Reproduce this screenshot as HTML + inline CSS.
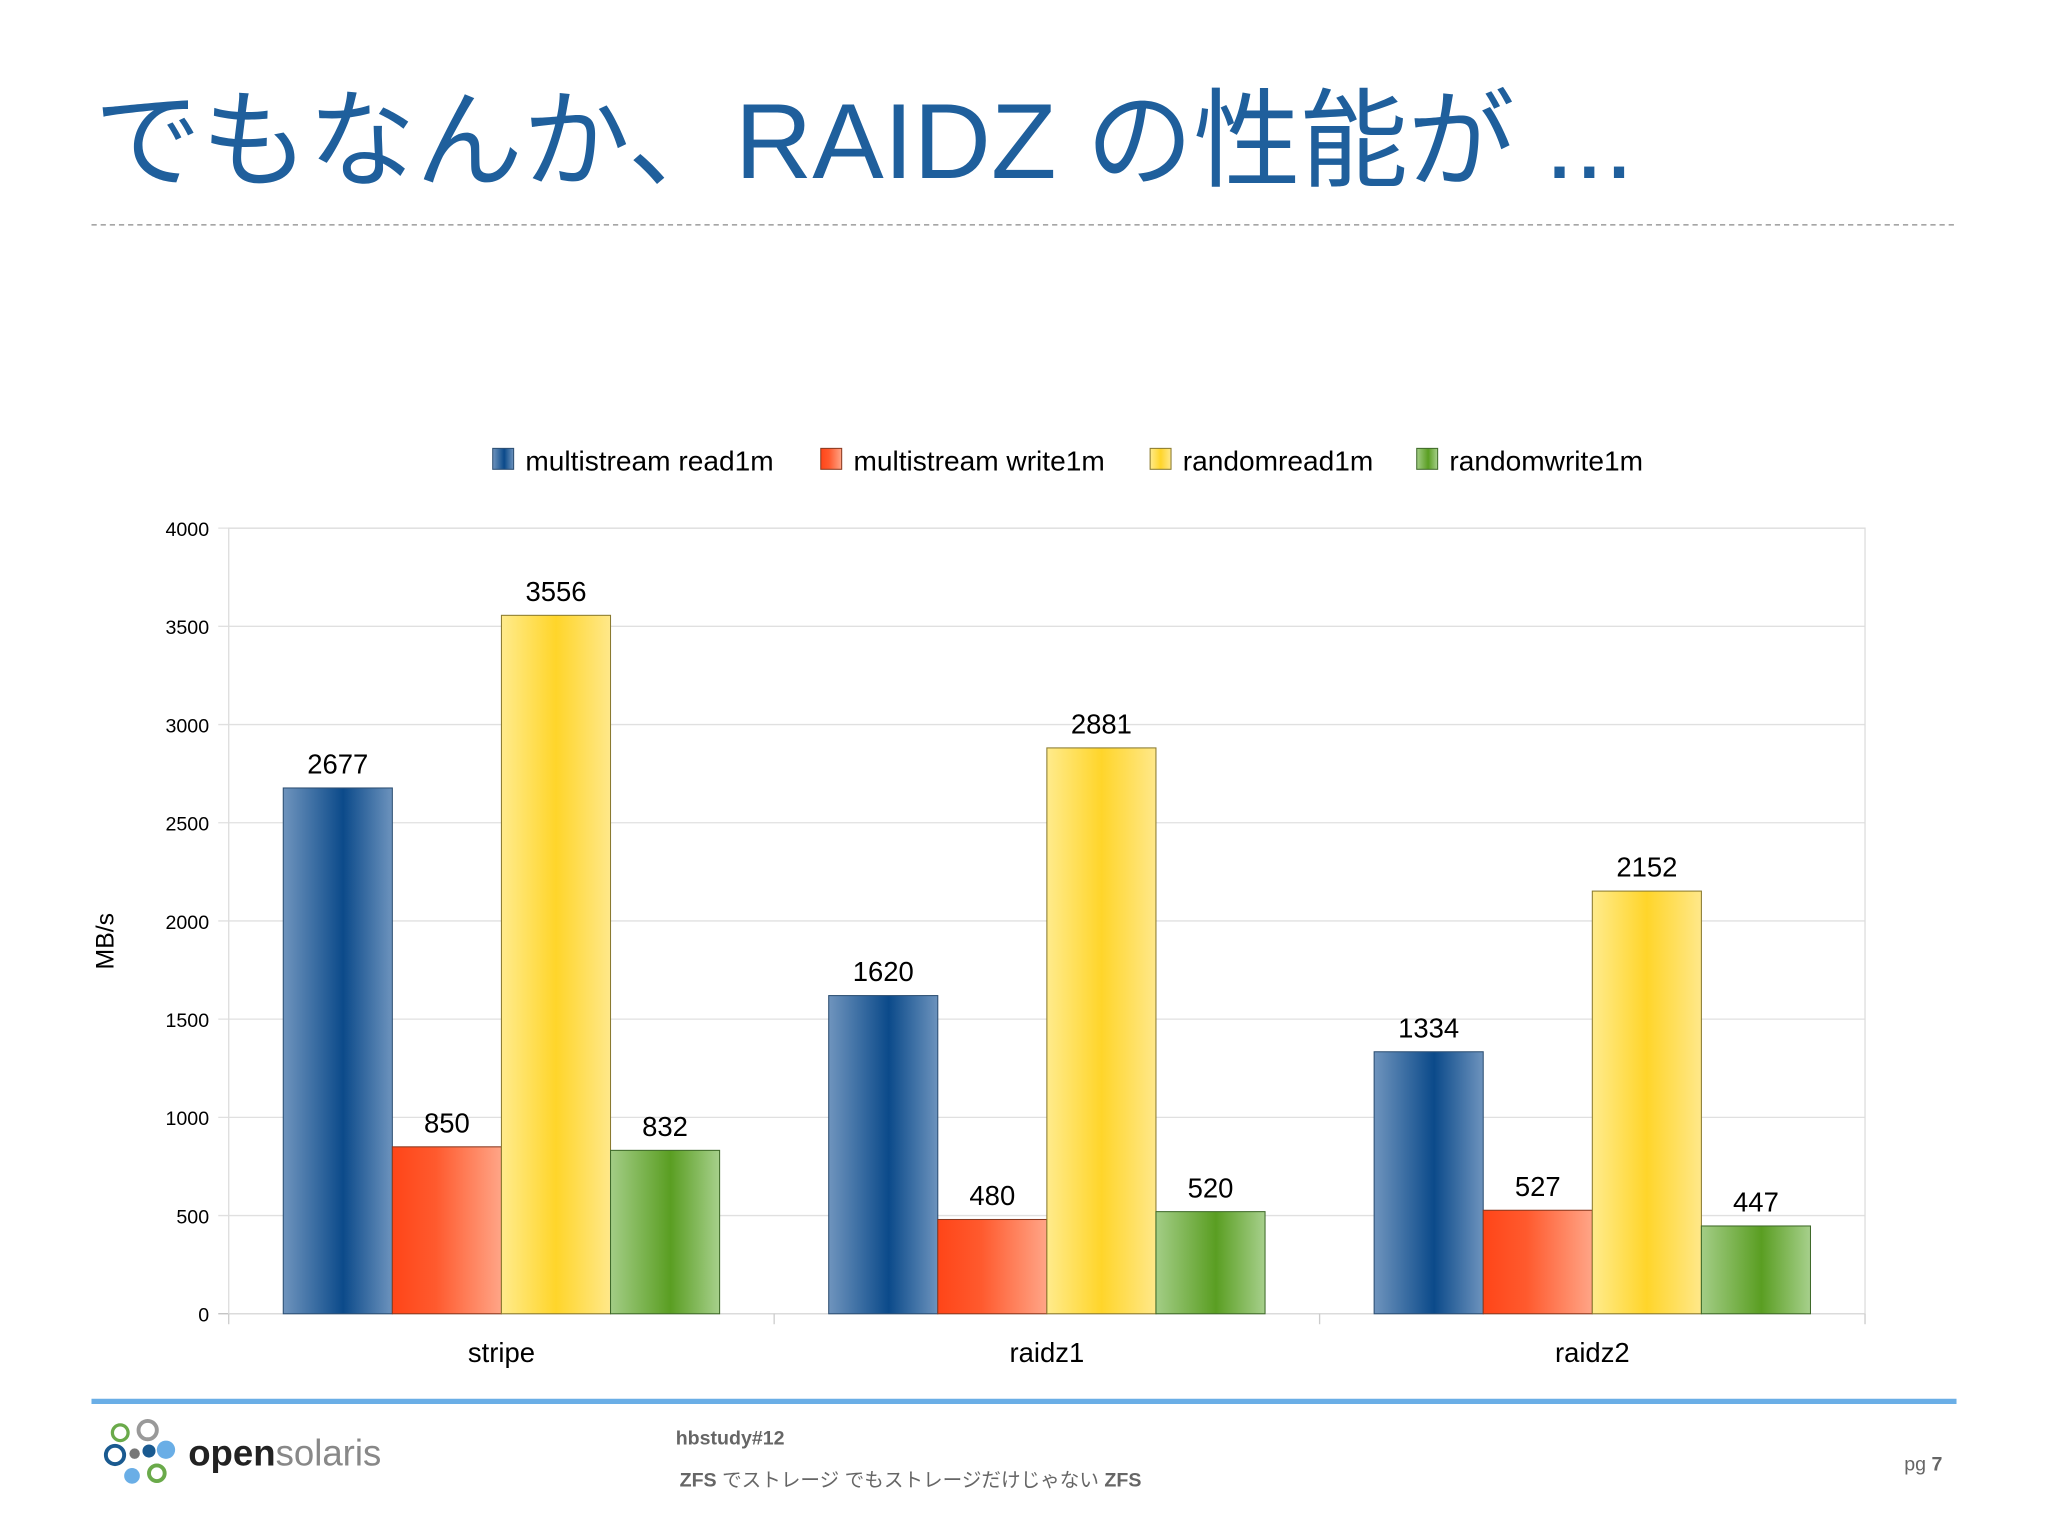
<!DOCTYPE html>
<html><head><meta charset="utf-8"><style>
html,body{margin:0;padding:0;background:#fff;width:2048px;height:1536px;overflow:hidden}
svg{display:block}
text{font-family:"Liberation Sans","Noto Sans CJK JP",sans-serif}
</style></head><body>
<svg id="chart" width="2048" height="1536" viewBox="0 0 1567 1175" preserveAspectRatio="none" xmlns="http://www.w3.org/2000/svg">
<defs>
<linearGradient id="gBlue" x1="0" x2="1"><stop offset="0" stop-color="#6f94bd"/><stop offset="0.55" stop-color="#0b4a8a"/><stop offset="1" stop-color="#6d93bd"/></linearGradient>
<linearGradient id="gRed" x1="0" x2="1"><stop offset="0" stop-color="#ff4518"/><stop offset="0.4" stop-color="#ff5a2e"/><stop offset="1" stop-color="#ffa587"/></linearGradient>
<linearGradient id="gYellow" x1="0" x2="1"><stop offset="0" stop-color="#ffeb8c"/><stop offset="0.5" stop-color="#ffd52a"/><stop offset="1" stop-color="#ffe88a"/></linearGradient>
<linearGradient id="gGreen" x1="0" x2="1"><stop offset="0" stop-color="#a3cd86"/><stop offset="0.55" stop-color="#5a9e22"/><stop offset="1" stop-color="#a7d08c"/></linearGradient>
</defs>
<text x="72" y="136" font-size="82" fill="#1f5f9c">でもなんか、RAIDZ の性能が ...</text>
<line x1="70" y1="172" x2="1497" y2="172" stroke="#888" stroke-width="1" stroke-dasharray="4,3"/>
<g id="legend"></g>
<g id="grid"></g>
<g id="bars"></g>
<text transform="translate(87,720) rotate(-90)" text-anchor="middle" font-size="19" fill="#000">MB/s</text>
<line x1="70" y1="1072" x2="1497" y2="1072" stroke="#6aaee6" stroke-width="4"/>
<g>
<circle cx="92" cy="1096" r="6" fill="none" stroke="#6aaa4a" stroke-width="2.5"/>
<circle cx="113" cy="1094" r="7" fill="none" stroke="#999" stroke-width="3"/>
<circle cx="88" cy="1113" r="7" fill="none" stroke="#1a5a90" stroke-width="3"/>
<circle cx="103" cy="1112" r="4" fill="#777"/>
<circle cx="114" cy="1110" r="5" fill="#1a5a90"/>
<circle cx="127" cy="1109" r="7" fill="#6aaee6"/>
<circle cx="101" cy="1129" r="6" fill="#6aaee6"/>
<circle cx="120" cy="1127" r="6" fill="none" stroke="#6aaa4a" stroke-width="3"/>
<text x="144" y="1121" font-size="28" font-weight="bold" fill="#222">open<tspan fill="#888" font-weight="normal">solaris</tspan></text>
</g>
<text x="517" y="1105" font-size="15" font-weight="bold" fill="#666">hbstudy#12</text>
<text x="520" y="1137" font-size="15" fill="#666"><tspan font-weight="bold">ZFS</tspan> でストレージ でもストレージだけじゃない <tspan font-weight="bold">ZFS</tspan></text>
<text x="1457" y="1125" font-size="15" fill="#666">pg <tspan font-weight="bold">7</tspan></text>
</svg>
<script>
const categories = ["stripe","raidz1","raidz2"];
const seriesNames = ["multistream read1m","multistream write1m","randomread1m","randomwrite1m"];
const readVals = [2677,1620,1334];
const writeVals = [850,480,527];
const randReadVals = [3556,2881,2152];
const randWriteVals = [832,520,447];
const yTicks = [0,500,1000,1500,2000,2500,3000,3500,4000];
const series = [readVals, writeVals, randReadVals, randWriteVals];
const fills = ["url(#gBlue)","url(#gRed)","url(#gYellow)","url(#gGreen)"];
const strokes = ["#2d4f73","#8a3a20","#8a7a30","#3f6a2a"];
const NS = "http://www.w3.org/2000/svg";
const L=175,R=1427,T=404,B=1005,YMAX=4000;
const y = v => B - v/YMAX*(B-T);
const gw = (R-L)/categories.length;
const bw = gw*0.2;
function mk(tag, attrs, parent){const e=document.createElementNS(NS,tag);for(const k in attrs)e.setAttribute(k,attrs[k]);parent.appendChild(e);return e;}
const grid=document.getElementById('grid'), bars=document.getElementById('bars'), legend=document.getElementById('legend');
yTicks.forEach(t=>{
  const ln=mk('line',{x1:L-8,x2:R,y1:y(t),y2:y(t),stroke:t===0?'#bbb':'#e0e0e0','stroke-width':1},grid);
  
  
  const tx=mk('text',{x:160,y:y(t)+6,'text-anchor':'end','font-size':15,fill:'#000'},grid);
  tx.textContent=t;
  
  
});
const frame=mk('rect',{x:L,y:T,width:R-L,height:B-T,fill:'none',stroke:'#ddd','stroke-width':1},grid);


for(let i=0;i<=categories.length;i++){
  const tk=mk('line',{x1:L+gw*i,x2:L+gw*i,y1:B,y2:B+8,stroke:'#ccc'},grid);
  
  
}
categories.forEach((c,i)=>{
  const tx=mk('text',{x:L+gw*(i+0.5),y:1042,'text-anchor':'middle','font-size':21,fill:'#000'},grid);
  tx.textContent=c;
  
  
  series.forEach((s,j)=>{
    const x0=L+gw*i+gw*0.1+bw*j;
    const r=mk('rect',{x:x0,y:y(s[i]),width:bw,height:B-y(s[i]),fill:fills[j],stroke:strokes[j],'stroke-width':0.8},bars);
    
    
    const lb=mk('text',{x:x0+bw/2,y:y(s[i])-11,'text-anchor':'middle','font-size':21,fill:'#000'},bars);
    lb.textContent=s[i];
    
    
  });
});
const lx=[377,628,880,1084];
seriesNames.forEach((n,j)=>{
  const sw=mk('rect',{x:lx[j],y:343,width:16,height:16,fill:fills[j],stroke:strokes[j],'stroke-width':0.8},legend);
  
  
  const tx=mk('text',{x:lx[j]+25,y:360,'font-size':21.5,fill:'#000'},legend);
  tx.textContent=n;
  
  
});
</script>
</body></html>
